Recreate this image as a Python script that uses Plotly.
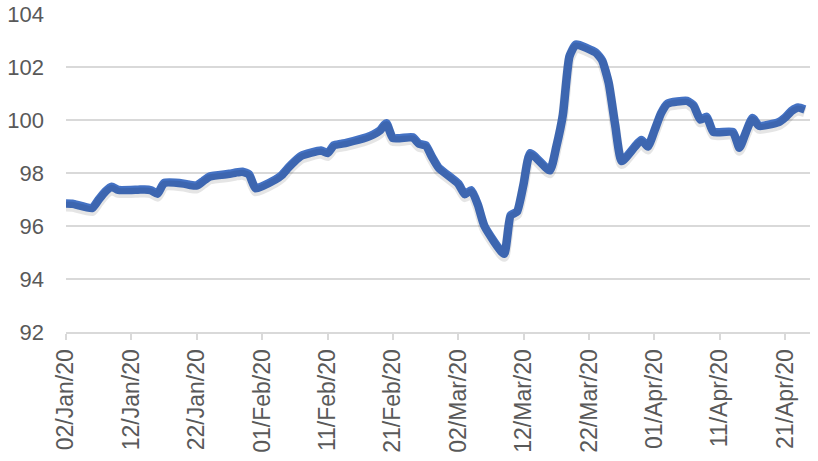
import pandas as pd
import plotly.graph_objects as go

dates = pd.bdate_range("2020-01-02", "2020-04-24")

values = [
    # Jan
    96.85, 96.84, 96.68, 97.00, 97.30, 97.48, 97.36, 97.37, 97.38, 97.35,
    97.22, 97.62, 97.60, 97.55, 97.53, 97.70, 97.87, 97.97, 98.02, 98.05,
    97.95, 97.42,
    # Feb
    97.75, 97.92, 98.20, 98.45, 98.65, 98.85, 98.75, 99.05, 99.10, 99.15,
    99.35, 99.45, 99.60, 99.88, 99.32, 99.35, 99.10, 99.05, 98.60, 98.20,
    # Mar
    97.60, 97.20, 97.35, 96.80, 96.00, 94.95, 96.40, 96.55, 97.60, 98.75,
    98.10, 99.00, 100.20, 102.40, 102.85, 102.55, 102.25, 101.40, 99.80, 98.45,
    99.25, 99.00,
    # Apr
    99.60, 100.25, 100.62, 100.72, 100.55, 100.02, 100.12, 99.55, 99.55, 98.95,
    99.55, 100.08, 99.78, 99.92, 100.10, 100.35, 100.47, 100.40,
]

y_ticks = [92, 94, 96, 98, 100, 102, 104]
y_range = [92, 104]

font_color = "#595959"
grid_color = "#D9D9D9"

fig = go.Figure()
# soft drop shadow: same series on an overlaid axis whose range is nudged ~3px
shadow_shift = 3 * (y_range[1] - y_range[0]) / 318
fig.add_trace(go.Scatter(
    x=dates, y=values, mode="lines", yaxis="y2",
    line=dict(color="rgba(0,0,0,0.10)", width=10, shape="spline", smoothing=0.5),
    hoverinfo="skip",
))
fig.add_trace(go.Scatter(
    x=dates, y=values, mode="lines",
    line=dict(color="#4472C4", width=8.5, shape="spline", smoothing=0.5),
    hoverinfo="skip",
))

fig.update_layout(
    width=818, height=461,
    margin=dict(l=66, r=8, t=14, b=129),
    paper_bgcolor="white", plot_bgcolor="white",
    showlegend=False,
    font=dict(family="Liberation Sans, Arial, sans-serif", color=font_color, size=21),
    xaxis=dict(
        type="date", automargin=False,
        range=["2020-01-02", "2020-04-24 19:00"],
        tick0="2020-01-02", dtick=10 * 24 * 3600 * 1000,
        tickformat="%d/%b/%y", tickangle=-90,
        ticks="outside", ticklen=6, tickwidth=2, tickcolor=grid_color,
        showline=True, linecolor=grid_color, linewidth=2,
        showgrid=False, zeroline=False,
        tickfont=dict(size=23, color=font_color),
        ticklabelstandoff=0,
        ticklabeloverflow="allow",
    ),
    yaxis=dict(
        automargin=False,
        range=y_range, tickvals=y_ticks,
        showgrid=True, gridcolor=grid_color, gridwidth=2,
        zeroline=False, showline=False,
        tickfont=dict(size=22, color=font_color),
        ticklabelstandoff=21,
        ticklabeloverflow="allow",
    ),
    yaxis2=dict(
        overlaying="y", automargin=False,
        range=[y_range[0] + shadow_shift, y_range[1] + shadow_shift],
        visible=False, showgrid=False, zeroline=False,
    ),
)

# remove the default 8px page margin so the figure fills the window exactly
fig.write_html(
    "out.html",
    config={"displayModeBar": False},
    post_script="document.body.style.margin='0';document.body.style.overflow='hidden';",
)
